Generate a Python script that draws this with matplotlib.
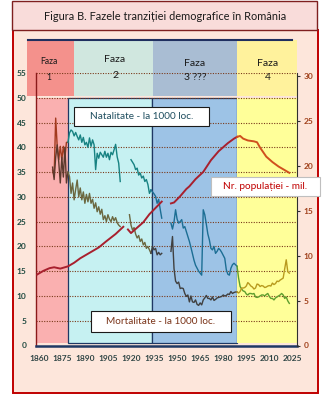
import matplotlib

matplotlib.use('Agg')
import matplotlib.pyplot as plt
from matplotlib.patches import Rectangle
import numpy as np

plt.rcParams['font.family'] = ['Lato', 'DejaVu Sans']

# --- data -------------------------------------------------------------
# crude birth rate (per 1000), split by phase
nat_p1_start, nat_p1 = 1869, [35.4, 34.1, 45.9, 40.2, 37.5, 40.2, 37.5, 40.2, 38.0, 41.0, 41.0]
nat_p2a_start, nat_p2a = 1879, [41.0, 42.9, 43.5, 43.2, 42.3, 43.0, 42.2, 41.5, 42.5, 41.0,
                                42.0, 40.5, 41.0, 40.0, 41.9, 40.2, 41.5, 40.5, 35.5, 38.8,
                                37.8, 39.0, 38.5, 38.0, 39.2, 38.0, 38.8, 37.5, 39.0, 38.5,
                                39.5, 40.6, 38.1, 36.8, 33.1]
nat_p2b_start, nat_p2b = 1920, [37.5, 37.0, 36.5, 35.5, 35.8, 34.4, 34.8, 33.8, 34.2, 33.1,
                                33.5, 32.5, 30.7, 31.4]
nat_p3a_start, nat_p3a = 1933, [31.4, 31.0, 30.6, 30.1, 28.7, 29.5, 27.5, 25.7]
nat_p3b_start, nat_p3b = 1946, [24.7, 23.5, 25.0, 27.4, 25.5, 24.7, 25.0, 25.4, 23.7, 24.0,
                                23.0, 22.0, 21.0, 19.8, 18.5, 17.2, 16.2, 15.6, 15.0, 14.6,
                                14.2, 27.4, 26.4, 24.5, 22.5, 21.3, 19.6, 19.3, 20.0, 18.6,
                                19.0, 19.6, 19.3, 18.8, 18.2, 17.6, 15.3, 14.4, 14.2, 15.6,
                                16.3, 16.6, 16.3, 16.0]
nat_p4_start, nat_p4 = 1989, [16.0, 13.6, 11.9, 11.4, 11.0, 10.9, 10.4, 10.2, 10.5, 10.5,
                              10.4, 10.5, 9.8, 9.7, 9.8, 10.0, 10.2, 10.2, 10.0, 10.3,
                              10.5, 9.9, 9.5, 9.5, 9.2, 9.6, 9.8, 10.0, 10.2, 10.5,
                              10.2, 9.5, 9.8, 9.0, 8.5]

# crude death rate (per 1000), split by phase
mort_p1_start, mort_p1 = 1869, [36.0, 33.5, 38.0, 40.5, 37.0, 32.8, 38.0, 34.0, 40.0, 32.8, 35.0]
mort_p2a_start, mort_p2a = 1879, [35.0, 34.1, 30.7, 32.8, 29.4, 31.5, 33.4, 30.0, 31.8, 29.4,
                                  31.0, 28.7, 30.5, 29.0, 30.7, 28.7, 29.5, 27.7, 28.8, 27.0,
                                  28.0, 26.5, 27.5, 25.4, 26.2, 25.0, 26.4, 25.5, 25.0, 26.0,
                                  25.2, 25.8, 24.8, 24.3, 24.0]
mort_p2b_start, mort_p2b = 1919, [26.4, 24.3, 23.3, 23.8, 22.5, 21.7, 22.2, 21.0, 21.5, 20.3,
                                  20.8, 19.6, 20.0, 19.3, 18.6]
mort_p3a_start, mort_p3a = 1933, [18.6, 20.0, 19.3, 19.6, 18.3, 18.8, 18.3, 18.6]
mort_p3b_start, mort_p3b = 1946, [19.0, 22.0, 15.5, 13.0, 12.5, 12.8, 11.5, 11.6, 11.5, 10.5,
                                  9.9, 10.2, 8.8, 10.0, 8.8, 8.7, 9.2, 8.3, 8.1, 8.6,
                                  8.2, 9.2, 9.6, 10.1, 9.5, 9.5, 9.2, 9.8, 9.1, 9.3,
                                  9.6, 9.7, 9.8, 9.9, 10.2, 10.0, 10.1, 10.4, 10.3, 10.9,
                                  10.5, 10.7, 10.8, 10.8]
mort_p4_start, mort_p4 = 1989, [10.8, 10.6, 10.9, 11.6, 11.6, 11.7, 12.0, 12.7, 12.4, 12.0,
                                11.8, 11.4, 11.6, 12.4, 12.3, 11.9, 12.1, 12.0, 11.7, 11.8,
                                12.0, 12.1, 12.0, 12.6, 12.3, 12.5, 13.0, 12.9, 13.2, 13.4,
                                13.6, 15.5, 17.3, 14.9, 14.6]

# population, millions (right axis)
pop_a_years = [1859, 1863, 1867, 1870, 1874, 1879, 1883, 1887, 1893, 1899, 1904, 1910, 1915]
pop_a = [7.9, 8.3, 8.6, 8.7, 8.55, 8.8, 9.2, 9.7, 10.3, 10.9, 11.6, 12.4, 13.2]
pop_b_years = [1918, 1920, 1924, 1928, 1932, 1936, 1940]
pop_b = [12.9, 12.5, 13.1, 13.7, 14.6, 15.3, 16.0]
pop_c_years = [1946, 1948, 1952, 1956, 1958, 1962, 1967, 1972, 1977, 1983, 1987, 1989]
pop_c = [15.8, 15.9, 16.6, 17.4, 17.7, 18.5, 19.3, 20.6, 21.6, 22.5, 23.0, 23.2]
pop_d_years = [1989, 1991, 1993, 1996, 2000, 2002, 2004, 2006, 2008, 2010, 2012, 2016, 2020, 2023]
pop_d = [23.2, 23.3, 23.0, 22.8, 22.7, 22.6, 22.0, 21.5, 21.0, 20.7, 20.4, 19.9, 19.5, 19.2]

year_ticks = list(range(1860, 2026, 15))
left_ticks = list(range(0, 56, 5))
right_ticks = list(range(0, 31, 5))

phase_bounds = [1858.2, 1878.8, 1933.6, 1989.0, 2028.0]
header_bounds = [1852.3, 1882.9, 1934.3, 1989.0, 2028.0]
phase_titles = ['1', '2', '3 ???', '4']

# --- layout helpers (pixel coordinates, origin top-left) --------------
W, H = 327, 398
fig = plt.figure(figsize=(W / 100, H / 100), dpi=100)
fig.patch.set_facecolor('white')


def fx(x):
    return x / W


def fy(y):
    return 1 - y / H


def fig_box(x0, y0, x1, y1, fc, ec, lw, z):
    fig.patches.append(Rectangle((fx(x0), fy(y1)), (x1 - x0) / W, (y1 - y0) / H,
                                 transform=fig.transFigure, facecolor=fc,
                                 edgecolor=ec, lw=lw, zorder=z))


# outer panel and title
fig_box(13, 30, 318, 393, '#FDE6DB', '#C00000', 1.4, -2)
fig_box(12, 1.5, 317, 30, '#F9DCDA', '#7F1F1F', 1.0, -1)
fig.text(fx(165), fy(16), 'Figura B. Fazele tranziției demografice în România',
         ha='center', va='center', fontsize=7.9, color='#1A1A1A')

ax = fig.add_axes([fx(36), fy(345.5), (297 - 36) / W, (345.5 - 73) / H])
ax.set_facecolor('none')
ax.set_xlim(1858.2, 2028)
ax.set_ylim(0, 55)

# phase headers above the plot
header_colors = ['#F4918C', '#D0E7DF', '#A9BDD3', '#FFF29C']
for i, c in enumerate(header_colors):
    ax.add_patch(Rectangle((header_bounds[i], 50.35), header_bounds[i + 1] - header_bounds[i], 11.3,
                           facecolor=c, edgecolor='none', clip_on=False, zorder=0.5))
ax.plot([1853.0, 2024.5], [61.65, 61.65], color='#1F2F5F', lw=1.5, clip_on=False, zorder=0.6)

# phase bodies
body_colors = ['#FAB0B0', '#C6F1F2', '#9DC3E6', '#FFFF99']
body_edges = ['none', '#1F3864', '#1F3864', 'none']
for i, c in enumerate(body_colors):
    ax.add_patch(Rectangle((phase_bounds[i], 0.6), phase_bounds[i + 1] - phase_bounds[i], 49.4,
                           facecolor=c, edgecolor=body_edges[i], lw=0.9, zorder=0.7))

for v in left_ticks[1:]:
    ax.axhline(v, color='#7A3A1A', lw=0.8, ls=(0, (1, 1.3)), zorder=1)


def seg(axis, start, vals, color, lw=1.0):
    yrs = np.arange(start, start + len(vals))
    axis.plot(yrs, vals, color=color, lw=lw, zorder=3)


# natality
seg(ax, nat_p1_start, nat_p1, '#A23A1E')
seg(ax, nat_p2a_start, nat_p2a, '#178282')
seg(ax, nat_p2b_start, nat_p2b, '#178282')
seg(ax, nat_p3a_start, nat_p3a, '#1C6E94')
seg(ax, nat_p3b_start, nat_p3b, '#1C6E94')
seg(ax, nat_p4_start, nat_p4, '#5E9E2E')

# mortality
seg(ax, mort_p1_start, mort_p1, '#5C3A2E')
seg(ax, mort_p2a_start, mort_p2a, '#6B6840')
seg(ax, mort_p2b_start, mort_p2b, '#6B6840')
seg(ax, mort_p3a_start, mort_p3a, '#404040')
seg(ax, mort_p3b_start, mort_p3b, '#404040')
seg(ax, mort_p4_start, mort_p4, '#B89A1E')

ax.set_xticks(year_ticks)
ax.set_xticklabels([str(y) for y in year_ticks])
ax.set_yticks(left_ticks)
ax.tick_params(axis='x', length=0, pad=7, labelsize=6, labelcolor='#2F4545')
ax.tick_params(axis='y', length=0, pad=7, labelsize=6, labelcolor='#1F4A40')
for lbl in ax.get_xticklabels() + ax.get_yticklabels():
    lbl.set_fontweight('bold')
ax.spines['top'].set_visible(False)
ax.spines['right'].set_visible(False)
ax.spines['left'].set_color('#8B1A1A')
ax.spines['left'].set_linewidth(1.0)
ax.spines['bottom'].set_color('#1F3864')
ax.spines['bottom'].set_linewidth(1.8)

# population on the right axis
ax2 = ax.twinx()
ax2.set_ylim(0, 30.3)
ax2.set_facecolor('none')
ax2.plot(pop_a_years, pop_a, color='#A8202E', lw=1.4)
ax2.plot(pop_b_years, pop_b, color='#A8202E', lw=1.4)
ax2.plot(pop_c_years, pop_c, color='#A8202E', lw=1.4)
ax2.plot(pop_d_years, pop_d, color='#D0501E', lw=1.4)
ax2.set_yticks(right_ticks)
ax2.tick_params(axis='y', length=2.5, width=0.8, pad=2, labelsize=6,
                labelcolor='#A0401A', color='#303030')
for lbl in ax2.get_yticklabels():
    lbl.set_fontweight('bold')
for s in ['left', 'top', 'bottom']:
    ax2.spines[s].set_visible(False)
ax2.spines['right'].set_color('#303030')
ax2.spines['right'].set_linewidth(0.8)

# phase header labels
header_text = [(49, 61, 77, 6.2), (115, 60, 76, 7.5), (195, 63, 78, 7.5), (268, 63, 78, 7.5)]
for (x, y1, y2, fs), t in zip(header_text, phase_titles):
    fig.text(fx(x), fy(y1), 'Faza', ha='center', va='center', fontsize=fs, color='#1A1A1A', zorder=6)
    fig.text(fx(x), fy(y2), t, ha='center', va='center', fontsize=fs, color='#1A1A1A', zorder=6)

# series labels
fig_box(74, 107, 209, 126, 'white', '#1A1A1A', 0.8, 5)
fig.text(fx(141.5), fy(116.5), 'Natalitate - la 1000 loc.', ha='center', va='center',
         fontsize=7.2, color='#1F4E5F', zorder=6)
fig_box(91, 311, 231, 332, 'white', '#1A1A1A', 0.8, 5)
fig.text(fx(161), fy(321.5), 'Mortalitate - la 1000 loc.', ha='center', va='center',
         fontsize=7.2, color='#7A3419', zorder=6)
fig_box(211, 177, 320, 196, 'white', '#BFBFBF', 0.8, 5)
fig.text(fx(265.5), fy(186.5), 'Nr. populației - mil.', ha='center', va='center',
         fontsize=7.2, color='#C00000', zorder=6)

fig.savefig('out.png', dpi=100)
plt.close(fig)
